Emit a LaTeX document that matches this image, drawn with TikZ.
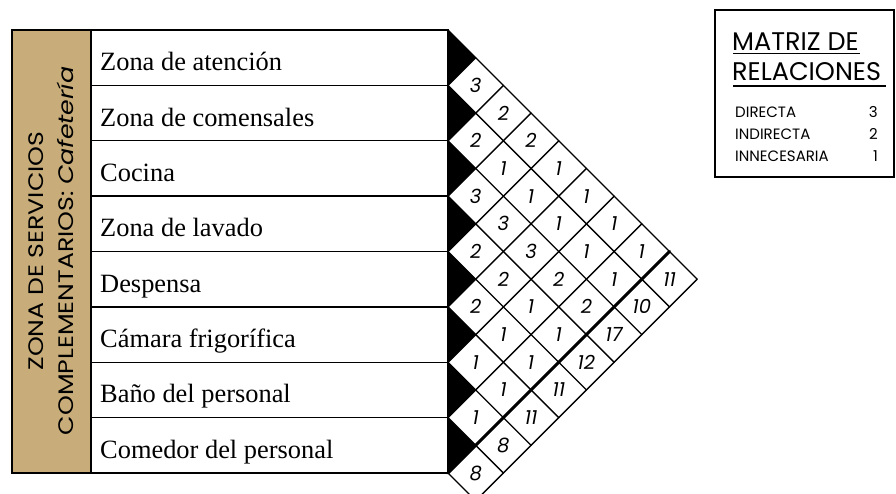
\documentclass[tikz,border=0pt]{standalone}
\usepackage{fontspec}
\setmainfont{Liberation Serif}
\newfontfamily\gothic{Poppins}
\newfontfamily\gothicw{Poppins}[FakeStretch=1.2]
\definecolor{cafe}{RGB}{200,173,122}
\begin{document}
\begin{tikzpicture}[x=1pt,y=-1pt,
  rowlabel/.style={anchor=base west,inner sep=0pt,font=\fontsize{26.4}{26.4}\selectfont},
  num/.style={inner sep=0pt,font=\gothic\itshape\fontsize{19.5}{19.5}\selectfont},
  gridline/.style={line width=1.4pt,line cap=round},
  thickline/.style={line width=3pt,line cap=round},
  coltext/.style={rotate=90,anchor=base,inner sep=0pt,font=\gothicw\fontsize{21}{21}\selectfont},
  legtitle/.style={anchor=base west,inner sep=0pt,font=\gothic\fontsize{25.5}{25.5}\selectfont},
  legitem/.style={anchor=base west,inner sep=0pt,font=\gothic\fontsize{15}{15}\selectfont},
  legnum/.style={anchor=base east,inner sep=0pt,font=\gothic\fontsize{15}{15}\selectfont}]
\useasboundingbox (0,0) rectangle (896,493);
\clip (0,0) rectangle (896,493);
\def\d{27.6875}
% brown column
\fill[cafe] (12,30) rectangle (91,473);
\node[coltext] (col1) at (43,251) {ZONA DE SERVICIOS};
\node[coltext] (col2) at (73,251) {COMPLEMENTARIOS: \itshape Cafetería};
% rows
\foreach \i/\t in {0/Zona de atención,1/Zona de comensales,2/Cocina,3/Zona de lavado,4/Despensa,5/Cámara frigorífica,6/Baño del personal,7/Comedor del personal}{
  \node[rowlabel] (r\i) at (100,{30+(2*\i+1)*\d+13}) {\t};
}
\foreach \k in {1,...,7}{
  \draw[line width=1.3pt] (91,{30+2*\k*\d}) -- (448,{30+2*\k*\d});
}
\draw[line width=1.5pt] (91,30) -- (91,473);
\draw[line width=1.5pt] (12,30) rectangle (448,473);
% black triangles
\foreach \i in {0,...,7}{
  \fill (448,{30+2*\i*\d}) -- ({448+\d},{30+(2*\i+1)*\d}) -- (448,{30+(2*\i+2)*\d}) -- cycle;
}
% grid
\foreach \k in {0,...,8}{
  \draw[gridline] (448,{30+2*\k*\d}) -- ({448+(9-\k)*\d},{30+(9+\k)*\d});
}
\foreach \m in {1,...,7}{
  \draw[gridline] ({448+\m*\d},{30+\m*\d}) -- (448,{30+2*\m*\d});
}
\draw[thickline] ({448+8*\d},{30+8*\d}) -- (448,{30+16*\d});
\draw[gridline] ({448+9*\d},{30+9*\d}) -- (448,{30+18*\d});
% values
\foreach \i/\j/\v in {0/1/3,0/2/2,0/3/2,0/4/1,0/5/1,0/6/1,0/7/1,
  1/2/2,1/3/1,1/4/1,1/5/1,1/6/1,1/7/1,
  2/3/3,2/4/3,2/5/3,2/6/2,2/7/2,
  3/4/2,3/5/2,3/6/1,3/7/1,
  4/5/2,4/6/1,4/7/1,
  5/6/1,5/7/1,
  6/7/1}{
  \node[num] (c\i\j) at ({448+(\j-\i)*\d},{30+(\i+\j+1)*\d}) {\v};
}
\foreach \i/\v in {0/11,1/10,2/17,3/12,4/11,5/11,6/8,7/8}{
  \node[num] (t\i) at ({448+(8-\i)*\d},{30+(\i+9)*\d}) {\v};
}
% legend
\draw[line width=1.4pt] (715,10) rectangle (894,177);
\node[legtitle] (lt1) at (732,50) {MATRIZ DE};
\draw[line width=1.4pt] (733,53.5) -- (860,53.5);
\node[legtitle] (lt2) at (732,80) {RELACIONES};
\draw[line width=1.4pt] (733,86) -- (886,86);
\node[legitem] (l1) at (735,117) {DIRECTA};
\node[legitem] (l2) at (735,139) {INDIRECTA};
\node[legitem] (l3) at (735,161) {INNECESARIA};
\node[legnum] (n1) at (878,117) {3};
\node[legnum] (n2) at (878,139) {2};
\node[legnum] (n3) at (878,161) {1};
\end{tikzpicture}
\end{document}
